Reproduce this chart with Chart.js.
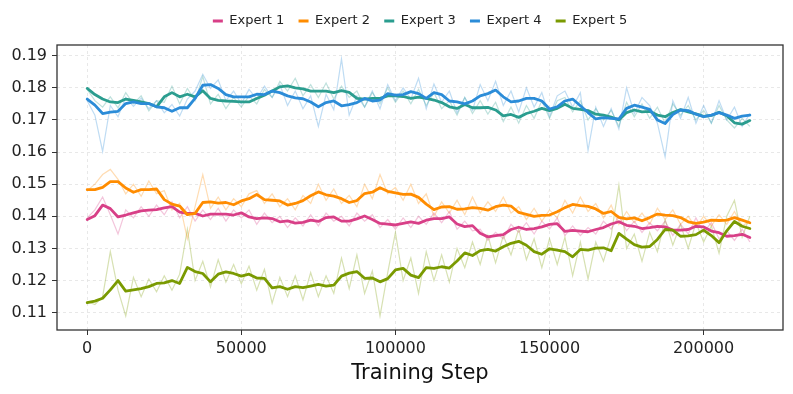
<!DOCTYPE html>
<html><head><meta charset="utf-8">
<script src="https://cdn.jsdelivr.net/npm/chart.js@4.4.1/dist/chart.umd.min.js"></script>
<style>html,body{margin:0;padding:0;background:#fff;}</style>
</head><body>
<canvas id="c" width="793" height="394"></canvas>
<script>
const steps = [0,2500,5000,7500,10000,12500,15000,17500,20000,22500,
25000,27500,30000,32500,35000,37500,40000,42500,45000,47500,
50000,52500,55000,57500,60000,62500,65000,67500,70000,72500,
75000,77500,80000,82500,85000,87500,90000,92500,95000,97500,
100000,102500,105000,107500,110000,112500,115000,117500,120000,122500,
125000,127500,130000,132500,135000,137500,140000,142500,145000,147500,
150000,152500,155000,157500,160000,162500,165000,167500,170000,172500,
175000,177500,180000,182500,185000,187500,190000,192500,195000,197500,
200000,202500,205000,207500,210000,212500,215000];

const seriesNames = ['Expert 1','Expert 2','Expert 3','Expert 4','Expert 5'];
const seriesColors = ['#d83f87','#ff8c00','#2a9d8f','#2b8cd8','#7a9a01'];
const yTicks = [0.11,0.12,0.13,0.14,0.15,0.16,0.17,0.18,0.19];
const xTicks = [0,50000,100000,150000,200000];

// smoothed (bold) lines
const expert1Smooth = [0.1390,0.1402,0.1435,0.1424,0.1398,0.1404,0.1411,0.1417,0.1419,0.1421,
0.1426,0.1430,0.1413,0.1409,0.1409,0.1401,0.1407,0.1407,0.1407,0.1404,
0.1411,0.1398,0.1393,0.1395,0.1393,0.1383,0.1386,0.1379,0.1381,0.1388,
0.1384,0.1396,0.1398,0.1385,0.1385,0.1392,0.1401,0.1390,0.1378,0.1376,
0.1373,0.1378,0.1383,0.1378,0.1388,0.1393,0.1393,0.1398,0.1376,0.1368,
0.1371,0.1347,0.1336,0.1340,0.1343,0.1359,0.1366,0.1359,0.1362,0.1367,
0.1375,0.1377,0.1353,0.1356,0.1354,0.1352,0.1359,0.1365,0.1376,0.1383,
0.1372,0.1369,0.1362,0.1365,0.1369,0.1367,0.1357,0.1357,0.1359,0.1369,
0.1367,0.1354,0.1349,0.1338,0.1340,0.1344,0.1334];
const expert2Smooth = [0.1483,0.1483,0.1490,0.1508,0.1508,0.1488,0.1475,0.1483,0.1483,0.1485,
0.1452,0.1438,0.1432,0.1405,0.1409,0.1443,0.1445,0.1441,0.1443,0.1436,
0.1448,0.1455,0.1468,0.1452,0.1450,0.1448,0.1435,0.1440,0.1449,0.1464,
0.1476,0.1467,0.1463,0.1455,0.1443,0.1449,0.1471,0.1475,0.1489,0.1478,
0.1473,0.1468,0.1469,0.1459,0.1438,0.1421,0.1429,0.1430,0.1422,0.1423,
0.1427,0.1425,0.1419,0.1430,0.1435,0.1432,0.1412,0.1406,0.1400,0.1403,
0.1404,0.1414,0.1427,0.1437,0.1433,0.1431,0.1423,0.1409,0.1415,0.1397,
0.1392,0.1395,0.1386,0.1396,0.1407,0.1404,0.1402,0.1396,0.1383,0.1378,
0.1382,0.1388,0.1387,0.1388,0.1396,0.1388,0.1380];
const expert3Smooth = [0.1798,0.1779,0.1765,0.1756,0.1754,0.1765,0.1761,0.1756,0.1751,0.1741,
0.1772,0.1785,0.1772,0.1780,0.1772,0.1791,0.1767,0.1761,0.1759,0.1758,
0.1756,0.1756,0.1767,0.1777,0.1790,0.1803,0.1806,0.1800,0.1797,0.1790,
0.1790,0.1790,0.1785,0.1791,0.1786,0.1767,0.1765,0.1767,0.1767,0.1775,
0.1775,0.1773,0.1767,0.1771,0.1767,0.1762,0.1754,0.1741,0.1736,0.1748,
0.1738,0.1738,0.1739,0.1731,0.1713,0.1717,0.1708,0.1720,0.1727,0.1736,
0.1729,0.1736,0.1749,0.1736,0.1733,0.1729,0.1718,0.1715,0.1709,0.1700,
0.1723,0.1731,0.1725,0.1727,0.1715,0.1710,0.1723,0.1732,0.1725,0.1719,
0.1711,0.1714,0.1724,0.1713,0.1691,0.1687,0.1698];
const expert4Smooth = [0.1765,0.1746,0.1720,0.1724,0.1727,0.1751,0.1756,0.1751,0.1751,0.1741,
0.1738,0.1727,0.1738,0.1738,0.1767,0.1808,0.1810,0.1798,0.1779,0.1772,
0.1772,0.1772,0.1780,0.1779,0.1790,0.1785,0.1775,0.1769,0.1766,0.1756,
0.1741,0.1754,0.1759,0.1744,0.1748,0.1754,0.1767,0.1759,0.1762,0.1782,
0.1777,0.1779,0.1788,0.1782,0.1767,0.1785,0.1779,0.1759,0.1756,0.1750,
0.1759,0.1775,0.1782,0.1793,0.1772,0.1756,0.1759,0.1767,0.1767,0.1759,
0.1734,0.1741,0.1759,0.1765,0.1744,0.1723,0.1703,0.1707,0.1705,0.1703,
0.1736,0.1746,0.1740,0.1733,0.1700,0.1689,0.1717,0.1731,0.1729,0.1718,
0.1710,0.1715,0.1723,0.1715,0.1705,0.1712,0.1715];
const expert5Smooth = [0.1131,0.1136,0.1145,0.1171,0.1200,0.1167,0.1171,0.1175,0.1181,0.1191,
0.1193,0.1200,0.1191,0.1241,0.1228,0.1222,0.1196,0.1220,0.1227,0.1222,
0.1214,0.1220,0.1208,0.1207,0.1177,0.1181,0.1173,0.1181,0.1178,0.1183,
0.1188,0.1183,0.1186,0.1214,0.1223,0.1228,0.1207,0.1208,0.1196,0.1206,
0.1233,0.1238,0.1217,0.1209,0.1240,0.1238,0.1243,0.1239,0.1261,0.1286,
0.1278,0.1293,0.1297,0.1292,0.1305,0.1316,0.1322,0.1310,0.1290,0.1282,
0.1299,0.1295,0.1290,0.1274,0.1297,0.1295,0.1301,0.1302,0.1293,0.1347,
0.1329,0.1312,0.1304,0.1306,0.1328,0.1359,0.1357,0.1338,0.1339,0.1343,
0.1357,0.1340,0.1318,0.1355,0.1384,0.1369,0.1362];

// raw (faint) lines
const expert1Raw = [0.1395,0.1420,0.1460,0.1405,0.1345,0.1420,0.1395,0.1430,0.1400,0.1435,
0.1405,0.1445,0.1395,0.1430,0.1385,0.1420,0.1390,0.1425,0.1385,0.1420,
0.1395,0.1420,0.1375,0.1410,0.1380,0.1400,0.1365,0.1395,0.1370,0.1405,
0.1370,0.1410,0.1385,0.1400,0.1370,0.1410,0.1385,0.1405,0.1365,0.1390,
0.1360,0.1395,0.1365,0.1400,0.1375,0.1410,0.1380,0.1415,0.1360,0.1385,
0.1355,0.1360,0.1325,0.1350,0.1330,0.1375,0.1350,0.1380,0.1345,0.1385,
0.1360,0.1395,0.1340,0.1370,0.1340,0.1365,0.1345,0.1385,0.1360,0.1400,
0.1355,0.1385,0.1350,0.1380,0.1355,0.1385,0.1340,0.1375,0.1345,0.1395,
0.1350,0.1380,0.1330,0.1355,0.1325,0.1360,0.1320];
const expert2Raw = [0.1480,0.1500,0.1530,0.1546,0.1515,0.1470,0.1500,0.1462,0.1510,0.1470,
0.1480,0.1420,0.1440,0.1330,0.1430,0.1530,0.1425,0.1460,0.1420,0.1455,
0.1430,0.1470,0.1480,0.1440,0.1470,0.1430,0.1455,0.1420,0.1465,0.1440,
0.1500,0.1450,0.1485,0.1440,0.1465,0.1430,0.1500,0.1455,0.1530,0.1470,
0.1490,0.1450,0.1500,0.1440,0.1470,0.1400,0.1445,0.1410,0.1450,0.1405,
0.1460,0.1410,0.1445,0.1415,0.1460,0.1410,0.1430,0.1390,0.1425,0.1385,
0.1420,0.1395,0.1450,0.1410,0.1460,0.1415,0.1440,0.1395,0.1435,0.1375,
0.1415,0.1380,0.1410,0.1375,0.1425,0.1390,0.1420,0.1375,0.1400,0.1365,
0.1400,0.1370,0.1405,0.1375,0.1415,0.1370,0.1385];
const expert3Raw = [0.1795,0.1760,0.1740,0.1772,0.1738,0.1785,0.1750,0.1775,0.1728,0.1760,
0.1755,0.1805,0.1750,0.1798,0.1760,0.1835,0.1750,0.1780,0.1735,0.1770,
0.1740,0.1775,0.1750,0.1795,0.1770,0.1820,0.1790,0.1830,0.1775,0.1810,
0.1770,0.1815,0.1765,0.1805,0.1770,0.1790,0.1740,0.1785,0.1750,0.1800,
0.1755,0.1790,0.1750,0.1795,0.1745,0.1785,0.1735,0.1760,0.1715,0.1770,
0.1720,0.1760,0.1718,0.1755,0.1695,0.1740,0.1690,0.1745,0.1705,0.1760,
0.1705,0.1760,0.1770,0.1725,0.1760,0.1700,0.1735,0.1700,0.1730,0.1680,
0.1755,0.1710,0.1750,0.1705,0.1740,0.1690,0.1750,0.1715,0.1745,0.1700,
0.1730,0.1690,0.1745,0.1700,0.1675,0.1705,0.1680];
const expert4Raw = [0.1760,0.1715,0.1602,0.1745,0.1710,0.1770,0.1742,0.1768,0.1735,0.1760,
0.1722,0.1748,0.1712,0.1765,0.1790,0.1842,0.1798,0.1825,0.1760,0.1790,
0.1750,0.1795,0.1765,0.1805,0.1770,0.1810,0.1745,0.1790,0.1735,0.1775,
0.1680,0.1780,0.1732,0.1890,0.1715,0.1775,0.1740,0.1790,0.1735,0.1810,
0.1760,0.1800,0.1765,0.1830,0.1735,0.1812,0.1755,0.1790,0.1722,0.1770,
0.1730,0.1810,0.1760,0.1820,0.1745,0.1790,0.1725,0.1800,0.1740,0.1785,
0.1710,0.1775,0.1790,0.1740,0.1785,0.1605,0.1740,0.1680,0.1735,0.1672,
0.1800,0.1720,0.1770,0.1745,0.1690,0.1585,0.1760,0.1705,0.1770,0.1690,
0.1745,0.1690,0.1760,0.1700,0.1740,0.1680,0.1720];
const expert5Raw = [0.1135,0.1125,0.1150,0.1290,0.1170,0.1090,0.1210,0.1150,0.1205,0.1165,
0.1215,0.1170,0.1220,0.1360,0.1200,0.1260,0.1180,0.1265,0.1195,0.1250,
0.1190,0.1245,0.1170,0.1235,0.1130,0.1210,0.1150,0.1215,0.1140,0.1225,
0.1150,0.1215,0.1160,0.1270,0.1175,0.1280,0.1160,0.1230,0.1090,0.1225,
0.1350,0.1200,0.1270,0.1160,0.1290,0.1200,0.1280,0.1195,0.1300,0.1240,
0.1320,0.1250,0.1340,0.1255,0.1340,0.1280,0.1360,0.1265,0.1330,0.1240,
0.1330,0.1250,0.1335,0.1215,0.1320,0.1205,0.1320,0.1260,0.1340,0.1497,
0.1300,0.1345,0.1260,0.1350,0.1290,0.1390,0.1310,0.1375,0.1300,0.1380,
0.1320,0.1370,0.1285,0.1400,0.1450,0.1335,0.1400];

const smoothSeries = [expert1Smooth, expert2Smooth, expert3Smooth, expert4Smooth, expert5Smooth];
const rawSeries = [expert1Raw, expert2Raw, expert3Raw, expert4Raw, expert5Raw];

function hexA(hex, a){
  const n = parseInt(hex.slice(1),16);
  return `rgba(${(n>>16)&255},${(n>>8)&255},${n&255},${a})`;
}
function pts(vals){ return steps.map((s,i)=>({x:s, y:vals[i]})); }

const datasets = [];
rawSeries.forEach((vals,i)=>{
  datasets.push({label: seriesNames[i]+' raw', data: pts(vals), borderColor: hexA(seriesColors[i],0.3),
    borderWidth: 1.2, pointRadius: 0, tension: 0, fill: false, order: 20 + i});
});
smoothSeries.forEach((vals,i)=>{
  datasets.push({label: seriesNames[i], data: pts(vals), borderColor: seriesColors[i], backgroundColor: seriesColors[i],
    borderWidth: 2.8, pointRadius: 0, tension: 0, fill: false, order: 5 - i, borderJoinStyle:'round', borderCapStyle:'round'});
});

Chart.defaults.font.family = "'DejaVu Sans', sans-serif";
Chart.defaults.color = '#222';

const legendGap = {
  id: 'legendGap',
  beforeLayout(chart){
    const lg = chart.legend;
    if (lg && !lg.__patched){
      const f = lg.fit;
      lg.fit = function(){ f.call(this); this.height += 7.5; };
      lg.__patched = true;
    }
  }
};
const frame = {
  id: 'frame',
  afterDraw(chart){
    const {ctx, chartArea:a} = chart;
    ctx.save();
    ctx.strokeStyle = '#333';
    ctx.lineWidth = 1.3;
    ctx.strokeRect(a.left, a.top, a.right - a.left, a.bottom - a.top);
    ctx.restore();
  }
};

new Chart(document.getElementById('c'), {
  type: 'line',
  data: { datasets },
  plugins: [legendGap, frame],
  options: {
    responsive: false,
    animation: false,
    layout: { padding: { top: 0.3, right: 10, bottom: 0, left: 0 } },
    plugins: {
      tooltip: { enabled: false },
      legend: {
        display: true, position: 'top', fullSize: false, onClick: null,
        labels: {
          boxWidth: 10, boxHeight: 3, padding: 14.2, color: '#222',
          font: { size: 13 },
          generateLabels(){
            return seriesNames.map((n,i)=>({text: n, fillStyle: seriesColors[i], strokeStyle: seriesColors[i],
              lineWidth: 0, hidden: false, datasetIndex: 5 + i, fontColor: '#222'}));
          }
        }
      }
    },
    scales: {
      x: {
        type: 'linear', min: -9800, max: 225750,
        afterBuildTicks(s){ s.ticks = xTicks.map(v=>({value:v})); },
        ticks: { autoSkip: false, maxRotation: 0, padding: 4, font: { size: 16 }, color: '#222',
          callback: v => String(v) },
        grid: { color: '#e3e3e3', lineWidth: 0.8, tickColor: '#333', tickLength: 5, tickWidth: 1 },
        border: { display: false, dash: [3,3] },
        title: { display: true, text: 'Training Step', font: { size: 21 }, color: '#111', padding: { top: 0, bottom: 8 } },
        afterFit(s){ s.height = 64; }
      },
      y: {
        type: 'linear', min: 0.10461, max: 0.19333,
        afterBuildTicks(s){ s.ticks = yTicks.map(v=>({value:v})); },
        ticks: { padding: 5, font: { size: 16 }, color: '#222', callback: v => Number(v).toFixed(2) },
        grid: { color: '#e3e3e3', lineWidth: 0.8, tickColor: '#333', tickLength: 5, tickWidth: 1 },
        border: { display: false, dash: [3,3] },
        afterFit(s){ s.width = 57; }
      }
    }
  }
});
</script>
</body></html>
